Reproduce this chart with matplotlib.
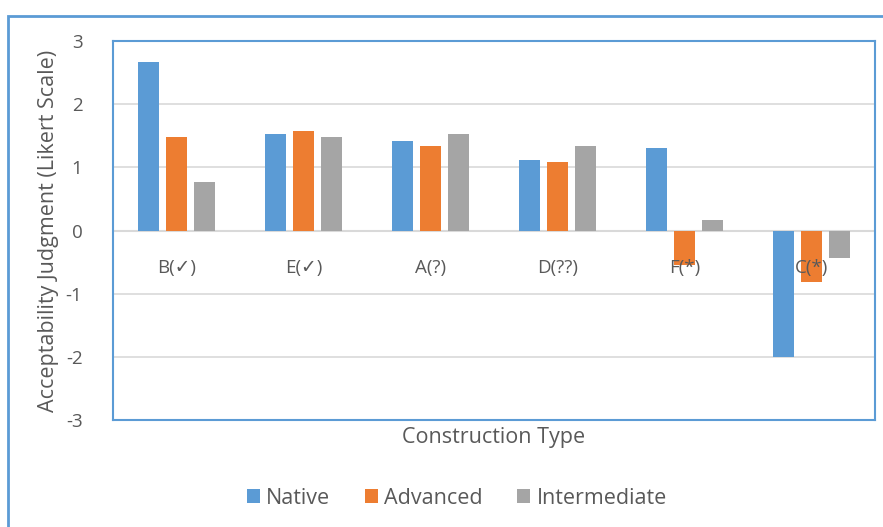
import matplotlib.pyplot as plt
from matplotlib.patches import Rectangle
import numpy as np

# Средние оценки приемлемости по типам конструкций
categories = ['B(✓)', 'E(✓)', 'A(?)', 'D(??)', 'F(*)', 'C(*)']
native = [2.67, 1.53, 1.42, 1.12, 1.30, -2.01]
advanced = [1.48, 1.58, 1.34, 1.09, -0.54, -0.81]
intermediate = [0.77, 1.48, 1.52, 1.33, 0.16, -0.43]

series = [('Native', native, '#5B9BD5'),
          ('Advanced', advanced, '#ED7D31'),
          ('Intermediate', intermediate, '#A5A5A5')]

plt.rcParams['font.family'] = ['Open Sans', 'DejaVu Sans']
text_color = '#595959'
border_color = '#5B9BD5'

W, H = 883, 527
fig = plt.figure(figsize=(W / 100, H / 100), dpi=100)

# внешняя рамка диаграммы
fig.patches.append(Rectangle((8 / W, -0.05), 1.0, 1 - 16 / H + 0.05,
                             transform=fig.transFigure, fill=False,
                             edgecolor=border_color, linewidth=2))

left, right, top, bottom = 113, 875, 41, 420
ax = fig.add_axes([left / W, 1 - bottom / H, (right - left) / W, (bottom - top) / H])

x = np.arange(len(categories))
width = 0.165
step = 0.22
for i, (name, vals, color) in enumerate(series):
    ax.bar(x + (i - 1) * step, vals, width, color=color, label=name, zorder=2)

ax.set_xlim(-0.5, len(categories) - 0.5)
ax.set_ylim(-3, 3)
ax.set_yticks(range(-3, 4))
ax.set_yticklabels([str(v) for v in range(-3, 4)], fontsize=13.5, color=text_color)
ax.tick_params(axis='y', length=0, pad=22)
ax.set_xticks([])
ax.grid(axis='y', color='#D9D9D9', linewidth=1.2, zorder=0)
ax.axhline(0, color='#D9D9D9', linewidth=1.5, zorder=1)
for s in ax.spines.values():
    s.set_color(border_color)
    s.set_linewidth(1.5)

# подписи категорий рядом с нулевой линией
for xi, lab in zip(x, categories):
    ax.text(xi, -0.6, lab, ha='center', va='center', fontsize=13.5,
            color=text_color, zorder=5)

ax.set_ylabel('Acceptability Judgment (Likert Scale)', fontsize=15.5,
              color=text_color)
ax.yaxis.set_label_coords(-(left - 59) / (right - left), 0.5)
fig.text(494 / W, 1 - 438 / H, 'Construction Type', ha='center', va='center',
         fontsize=15.5, color=text_color)

fig.legend(loc='center', bbox_to_anchor=(457 / W, 1 - 498 / H), ncol=3,
           frameon=False, fontsize=15.5, labelcolor=text_color,
           handlelength=0.6, handleheight=0.6, handletextpad=0.3,
           columnspacing=1.6)

fig.savefig('out.png', dpi=100)
